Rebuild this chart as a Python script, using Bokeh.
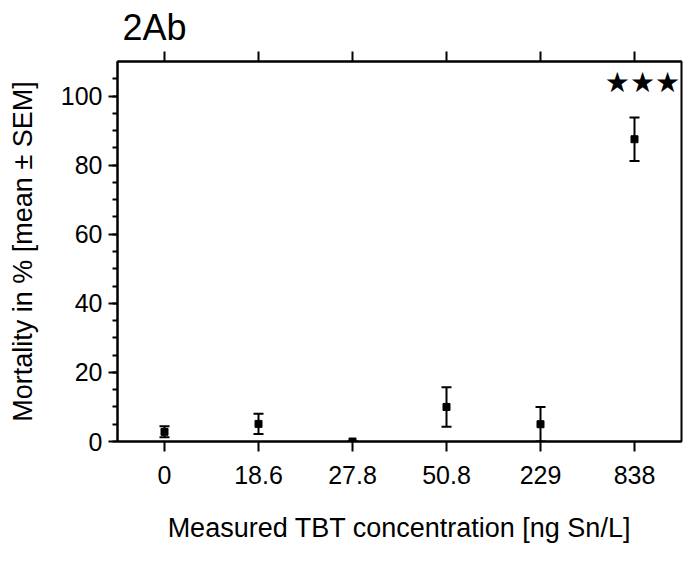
from bokeh.plotting import figure
from bokeh.models import (ColumnDataSource, FactorRange, Range1d, FixedTicker, Whisker,
                          TeeHead, CategoricalAxis)
from bokeh.core.properties import value
from bokeh.embed import file_html
from bokeh.resources import INLINE

# ---- data ----
concentrations = ["0", "18.6", "27.8", "50.8", "229", "838"]
mortality_mean = [2.8, 5.1, 0.0, 10.0, 5.0, 87.5]
mortality_sem = [1.6, 2.9, 0.0, 5.7, 5.0, 6.3]
significance = ["", "", "", "", "", "★★★"]
y_major_ticks = [0, 20, 40, 60, 80, 100]
y_minor_ticks = [0, 5, 10, 15, 20, 25, 30, 35, 40, 45, 50, 55, 60, 65, 70, 75, 80, 85, 90, 95, 100, 105]

FONT = "Liberation Sans"

src = ColumnDataSource(data=dict(
    x=concentrations,
    y=mortality_mean,
    upper=[m + s for m, s in zip(mortality_mean, mortality_sem)],
    lower=[m - s for m, s in zip(mortality_mean, mortality_sem)],
))

p = figure(x_range=FactorRange(*concentrations), y_range=Range1d(0, 110),
           width=683, height=551, frame_width=564, frame_height=380,
           min_border_left=117, min_border_right=2, min_border_top=61, min_border_bottom=110,
           output_backend="svg", toolbar_location=None,
           title="2Ab")

p.title.text_font = FONT
p.title.text_font_size = "36px"
p.title.text_font_style = "normal"
p.title.text_color = "black"
p.title.align = "left"
p.title.offset = 5
p.title.standoff = 7

p.xgrid.visible = False
p.ygrid.visible = False
p.outline_line_color = "black"
p.outline_line_width = 2
p.outline_line_alpha = 1.0

# y axis
ya = p.yaxis[0]
ya.ticker = FixedTicker(ticks=y_major_ticks, minor_ticks=y_minor_ticks)
ya.axis_line_width = 2
ya.major_tick_line_width = 2
ya.minor_tick_line_width = 2
ya.major_tick_out = 9
ya.major_tick_in = 0
ya.minor_tick_out = 5
ya.minor_tick_in = 0
ya.major_label_text_font = FONT
ya.major_label_text_font_size = "25px"
ya.major_label_text_color = "black"
ya.major_label_standoff = 6
ya.axis_label = "Mortality in % [mean ± SEM]"
ya.axis_label_text_font = FONT
ya.axis_label_text_font_style = "normal"
ya.axis_label_text_font_size = "27px"
ya.axis_label_text_color = "black"
ya.axis_label_standoff = 20

# x axis
xa = p.xaxis[0]
xa.axis_line_width = 2
xa.major_tick_line_width = 2
xa.major_tick_out = 10
xa.major_tick_in = 0
xa.major_label_text_font = FONT
xa.major_label_text_font_size = "25px"
xa.major_label_text_color = "black"
xa.major_label_standoff = 14
xa.axis_label = "Measured TBT concentration [ng Sn/L]"
xa.axis_label_text_font = FONT
xa.axis_label_text_font_style = "normal"
xa.axis_label_text_font_size = "27px"
xa.axis_label_text_color = "black"
xa.axis_label_standoff = 26

# top axis: ticks only (labels not painted)
top = CategoricalAxis()
top.axis_line_width = 2
top.major_tick_line_width = 2
top.major_tick_out = 10
top.major_tick_in = 0
top.major_label_text_color = None
top.major_label_text_font_size = "1px"
top.major_label_standoff = 0
p.add_layout(top, "above")

# error bars
p.add_layout(Whisker(source=src, base="x", upper="upper", lower="lower",
                     line_color="black", line_width=2,
                     upper_head=TeeHead(size=10, line_width=2, line_color="black"),
                     lower_head=TeeHead(size=10, line_width=2, line_color="black")))

# means
p.scatter(x="x", y="y", source=src, marker="square", size=7, color="black")

# significance stars
sig_x = [c for c, s in zip(concentrations, significance) if s]
sig_t = [s for s in significance if s]
p.text(x=sig_x, y=[104] * len(sig_x), text=sig_t, text_align="center", text_baseline="middle",
       x_offset=8, text_font=value("DejaVu Sans"), text_font_size="28px", text_color="black")

open("out.html", "w").write(file_html(p, INLINE))
